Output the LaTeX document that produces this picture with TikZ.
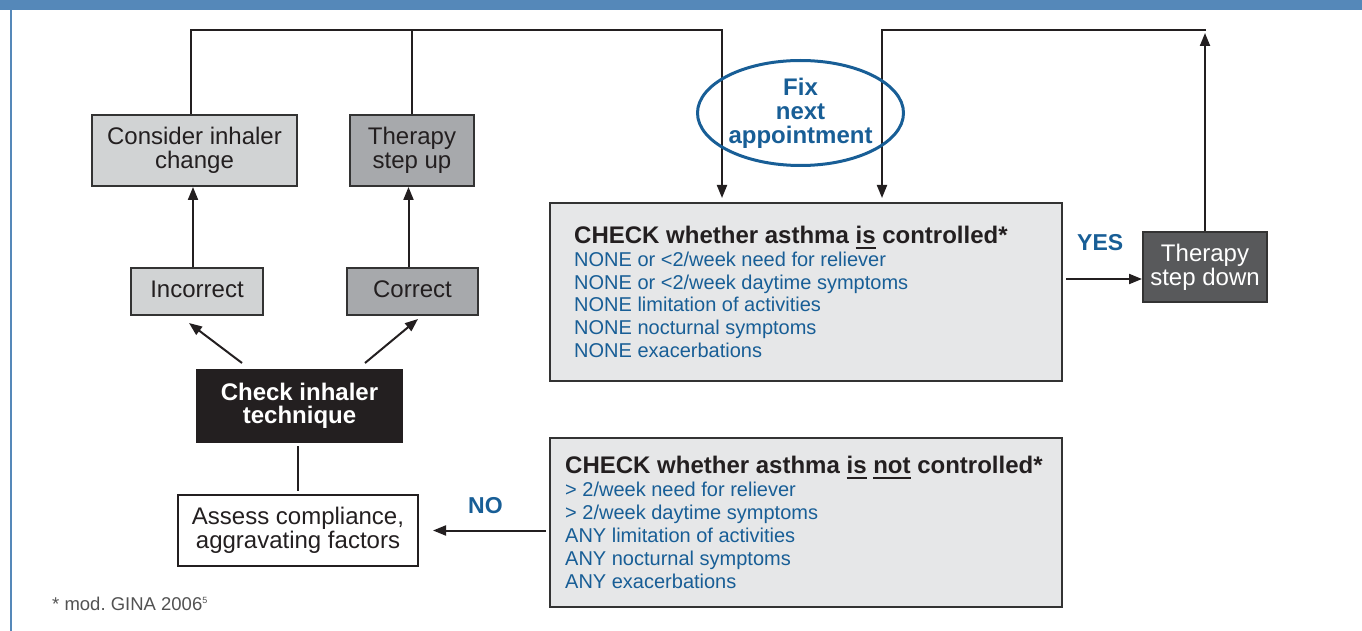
\documentclass[tikz,border=0pt]{standalone}
\usepackage{fontspec}
\setmainfont{Liberation Sans}
\usetikzlibrary{arrows.meta,calc,shapes.geometric}
\definecolor{barblue}{RGB}{85,136,185}
\definecolor{txtblue}{RGB}{24,94,150}
\definecolor{ink}{RGB}{35,31,32}
\definecolor{edge}{RGB}{51,51,51}
\definecolor{grayA}{RGB}{209,211,212}
\definecolor{grayB}{RGB}{167,169,172}
\definecolor{grayC}{RGB}{88,89,91}
\definecolor{grayD}{RGB}{230,231,232}
% thick underline used in the check box headings
\newcommand\ulbar[1]{\setbox0=\hbox{#1}\rlap{\rule[-6pt]{\wd0}{2pt}}\box0\relax}
\begin{document}
\begin{tikzpicture}[x=1pt,y=-1pt,
  box/.style={draw=edge,line width=2pt,inner sep=0pt,align=center,
    font=\fontsize{24}{24}\selectfont,text=ink},
  conn/.style={draw=ink,line width=2pt},
  arr/.style={conn,-{Triangle[length=13pt,width=10pt]}},
  tag/.style={anchor=base west,inner sep=0pt,text=txtblue,
    font=\fontsize{23}{23}\selectfont\bfseries}]
\useasboundingbox (0,0) rectangle (1362,631);

% frame
\fill[barblue] (0,0) rectangle (1362,10);
\fill[barblue] (9.5,10) rectangle (12,631);

% boxes
\node[box,fill=grayA,minimum width=205,minimum height=71] (consider) at (194.5,150.5) {Consider inhaler\\change};
\node[box,fill=grayB,minimum width=124,minimum height=71] (stepup) at (412,150.5) {Therapy\\step up};
\node[box,fill=grayA,minimum width=132,minimum height=47,text height=17.5pt,text depth=6.5pt] (incorrect) at (197,291.5) {Incorrect};
\node[box,fill=grayB,minimum width=131,minimum height=47,text height=17.5pt,text depth=6.5pt] (correct) at (412.5,291.5) {Correct};
\node[box,fill=ink,draw=ink,text=white,font=\fontsize{24}{23}\selectfont\bfseries,minimum width=205,minimum height=72] (inhaler) at (299.5,406) {Check inhaler\\technique};
\node[box,fill=white,draw=ink,minimum width=240,minimum height=71] (assess) at (298,530.5) {Assess compliance,\\aggravating factors};
\node[box,fill=grayC,text=white,minimum width=124,minimum height=70] (stepdown) at (1205,267) {Therapy\\step down};
\node[box,fill=grayD,minimum width=512,minimum height=178] (check1) at (806,292) {};
\node[box,fill=grayD,minimum width=512,minimum height=169] (check2) at (806,522.5) {};

% check box contents
\node[anchor=base west,inner sep=0pt] (check1txt) at (574,243) {\vtop{\baselineskip=23pt\lineskiplimit=-50pt\lineskip=0pt
  \hbox{\fontsize{24}{23}\selectfont\bfseries\color{ink}CHECK whether asthma \ulbar{is} controlled*}
  \hbox{\fontsize{20}{23}\selectfont\color{txtblue}NONE or <2/week need for reliever}
  \hbox{\fontsize{20}{23}\selectfont\color{txtblue}NONE or <2/week daytime symptoms}
  \hbox{\fontsize{20}{23}\selectfont\color{txtblue}NONE limitation of activities}
  \hbox{\fontsize{20}{23}\selectfont\color{txtblue}NONE nocturnal symptoms}
  \hbox{\fontsize{20}{23}\selectfont\color{txtblue}NONE exacerbations}}};
\node[anchor=base west,inner sep=0pt] (check2txt) at (565,473) {\vtop{\baselineskip=23pt\lineskiplimit=-50pt\lineskip=0pt
  \hbox{\fontsize{24}{23}\selectfont\bfseries\color{ink}CHECK whether asthma \ulbar{is} \ulbar{not} controlled*}
  \hbox{\fontsize{20}{23}\selectfont\color{txtblue}> 2/week need for reliever}
  \hbox{\fontsize{20}{23}\selectfont\color{txtblue}> 2/week daytime symptoms}
  \hbox{\fontsize{20}{23}\selectfont\color{txtblue}ANY limitation of activities}
  \hbox{\fontsize{20}{23}\selectfont\color{txtblue}ANY nocturnal symptoms}
  \hbox{\fontsize{20}{23}\selectfont\color{txtblue}ANY exacerbations}}};

% follow-up loops
\coordinate (loopL) at (722,30);
\coordinate (loopR) at (882,30);
\coordinate (peak) at (1206,30);
\draw[arr,shorten >=4pt] ([xshift=-3.5pt]consider.north) |- (loopL) -- (loopL |- check1.north);
\draw[conn] (stepup.north) -- (stepup.north |- loopL);
\draw[arr,shorten >=4pt] (peak) -- (loopR) -- (loopR |- check1.north);
\draw[arr,shorten >=3pt] (stepdown.north) -- (stepdown.north |- peak);

\node[ellipse,draw=txtblue,line width=3pt,fill=none,minimum width=206,minimum height=105,inner sep=0pt,
  align=center,text=txtblue,font=\fontsize{24}{24}\selectfont\bfseries] (appt) at (800.5,113) {Fix\\next\\appointment};

% inhaler technique branch
\draw[arr] ([xshift=-4pt]incorrect.north) -- ([xshift=-4pt]incorrect.north |- consider.south);
\draw[arr] ([xshift=-4pt]correct.north) -- ([xshift=-4pt]correct.north |- stepup.south);
\draw[arr] ($(inhaler.north west)+(46,-6)$) -- ($(incorrect.south)+(-8,7)$);
\draw[arr] ($(inhaler.north east)+(-38,-6)$) -- ($(correct.south)+(5.5,3)$);
\draw[conn,shorten <=3pt,shorten >=3pt] (assess.north |- inhaler.south) -- (assess.north);

% decisions
\draw[arr] ($(check2.west |- assess.east)+(-3,0)$) -- ($(assess.east)+(14,0)$);
\node[tag] (no) at (468,513) {NO};
\coordinate (yesend) at ($(stepdown.west)+(0,12)$);
\draw[arr] ($(yesend -| check1.east)+(3,0)$) -- (yesend);
\node[tag] (yes) at (1077,250) {YES};

% source
\node[anchor=base west,inner sep=0pt,text=black!68,font=\fontsize{18.5}{20}\selectfont] (note) at (52,610)
  {* mod.\ GINA 2006\raisebox{7pt}{\fontsize{9}{9}\selectfont 5}};
\end{tikzpicture}
\end{document}
